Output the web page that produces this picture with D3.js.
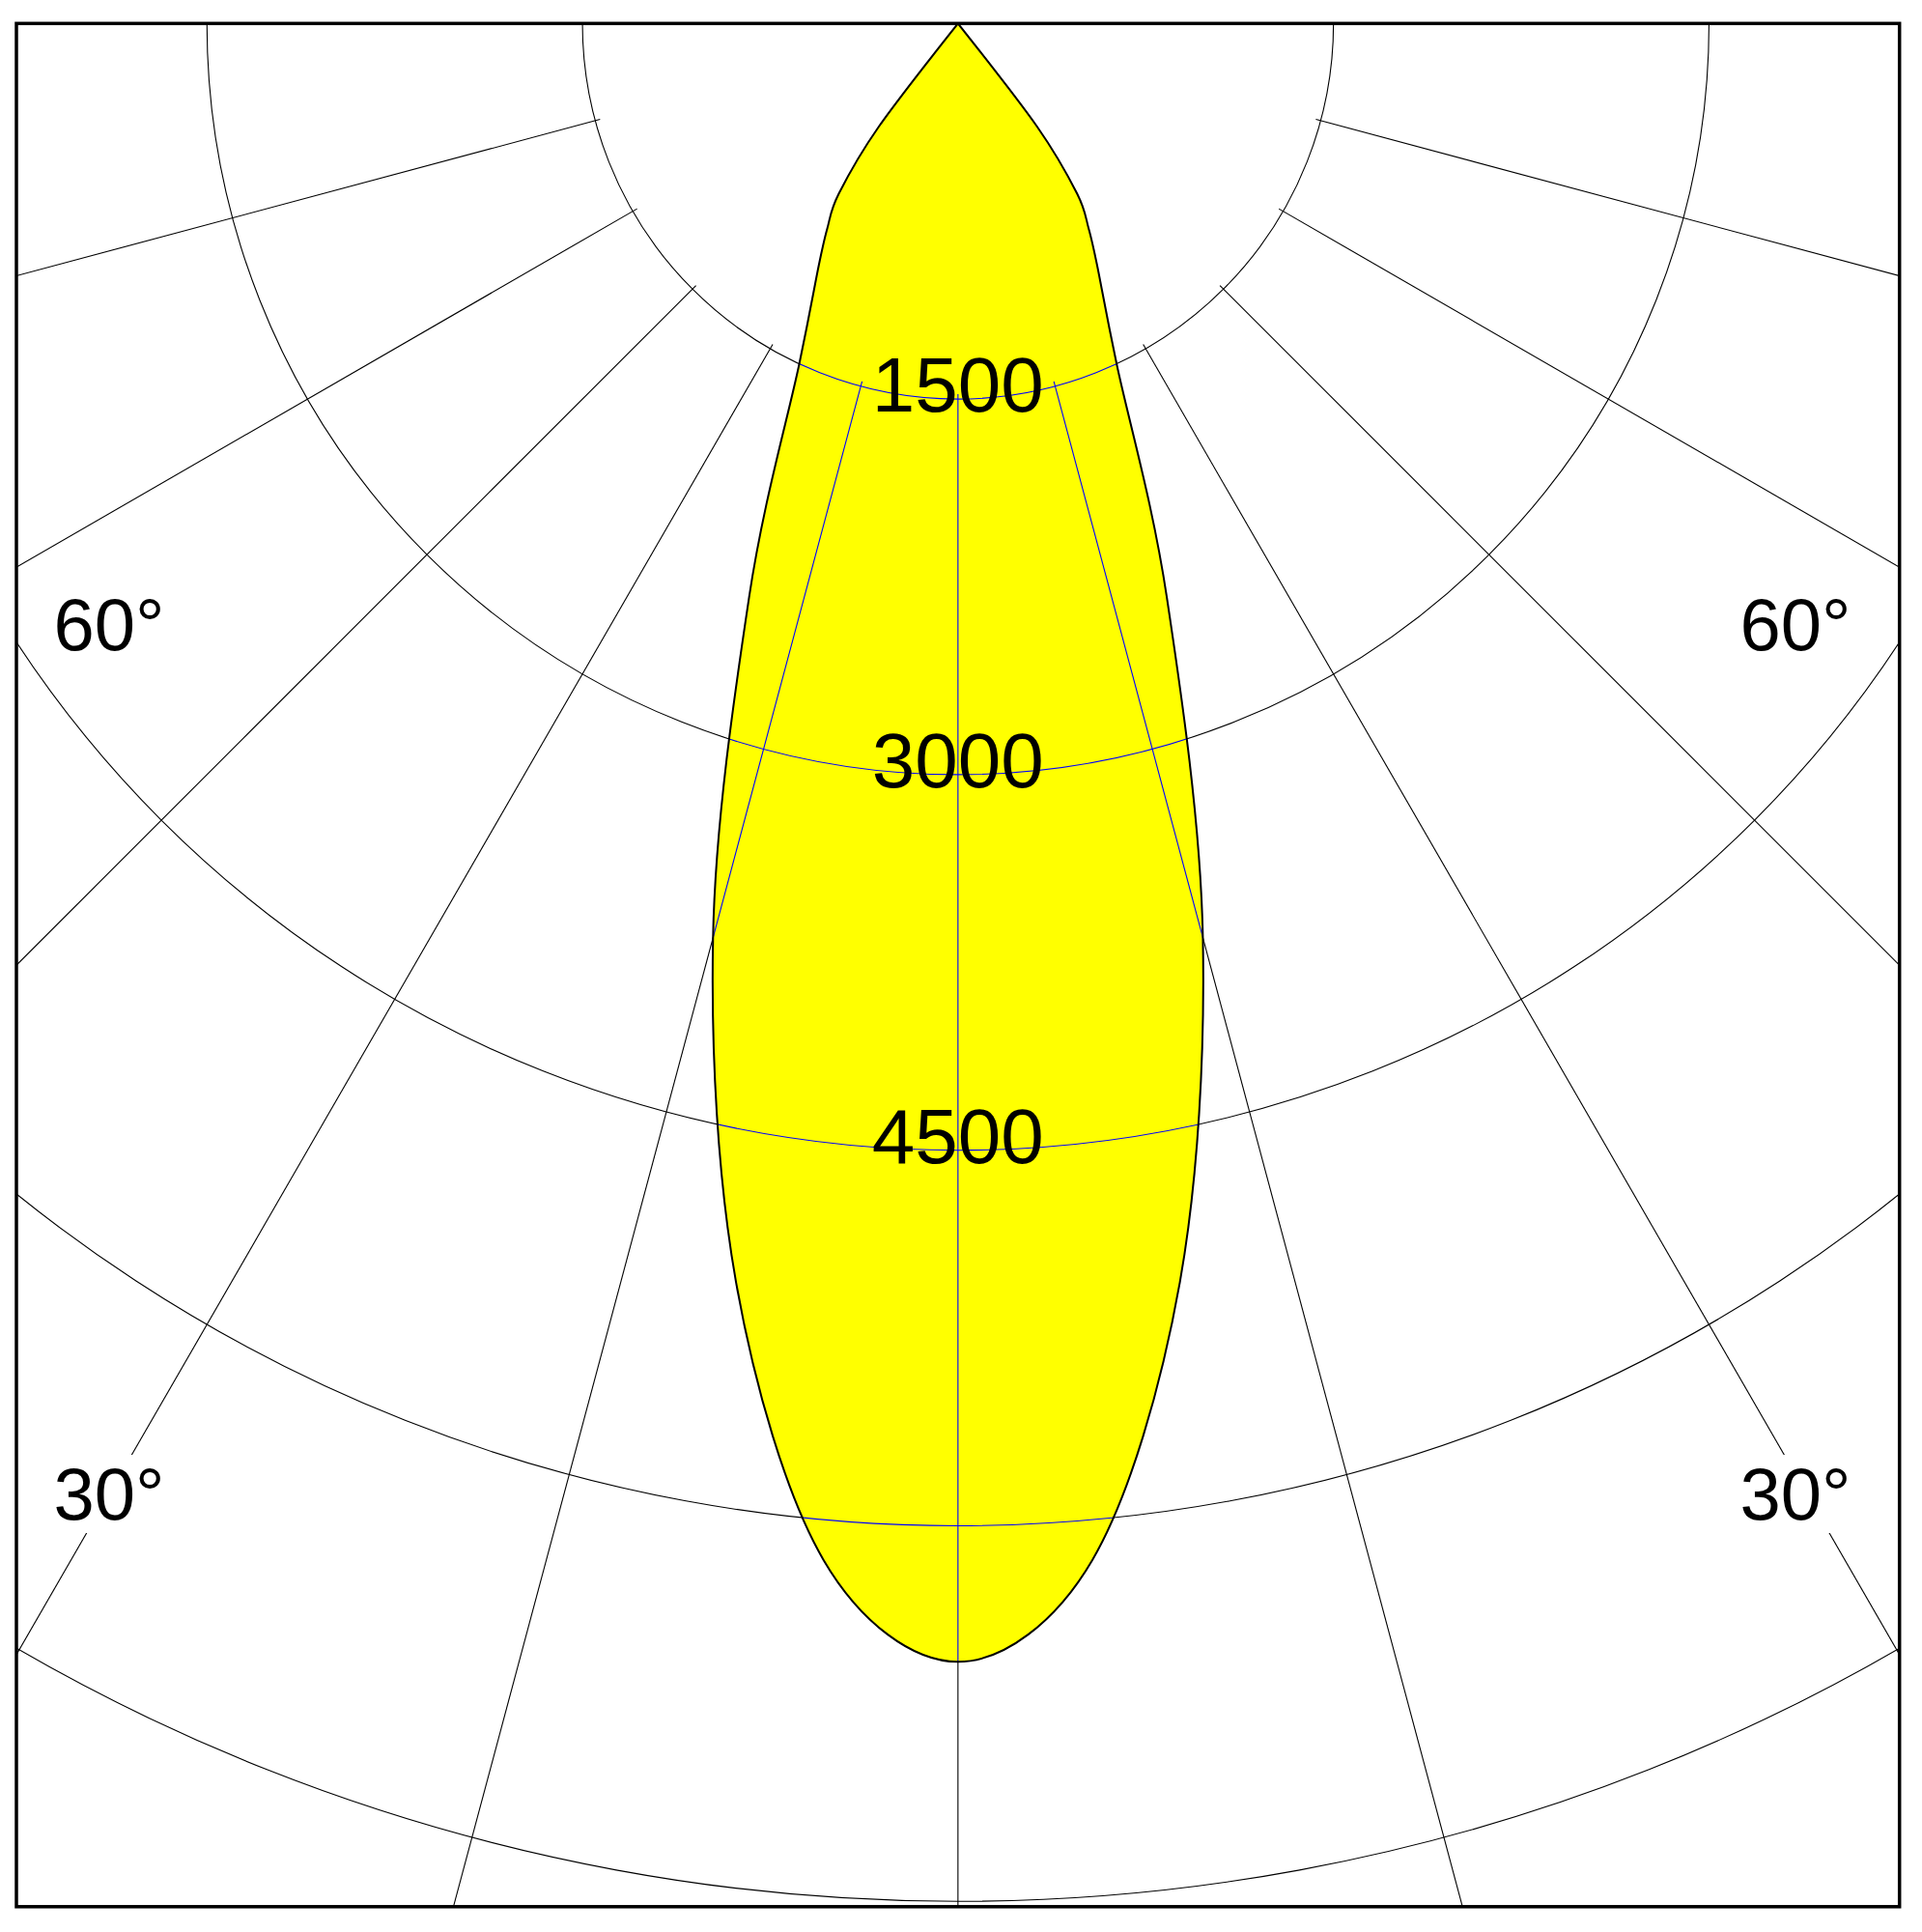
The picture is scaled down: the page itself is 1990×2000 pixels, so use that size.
<!DOCTYPE html>
<html>
<head>
<meta charset="utf-8">
<style>
  html, body { margin: 0; padding: 0; background: #fff; }
  svg { display: block; }
  text { font-family: "Liberation Sans", Arial, sans-serif; fill: #000; }
</style>
</head>
<body>
<div id="graphic"></div>
<script src="https://d3js.org/d3.v7.min.js"></script>
<script>
// luminous intensity (cd), one half of the symmetric beam (degrees from nadir)
var angles = [0, 5, 10, 15, 20, 25, 30, 32.5, 35, 37.5, 40];
var candela = [6543, 6160, 5105, 3780, 2440, 1500, 1110, 972, 830, 520, 0];

var rings = [1500, 3000, 4500, 6000, 7500];
var ringLabels = [1500, 3000, 4500];
var spokes = [-75, -60, -45, -30, -15, 0, 15, 30, 45, 60, 75];
var degreeLabels = ["60°", "30°"];

var W = 1990, H = 2000;
var frame = { left: 17, top: 24.3, right: 1966.7, bottom: 1973.8 };
var cx = (frame.left + frame.right) / 2,
    cy = frame.top;

var svg = d3.select("#graphic").append("svg")
    .attr("width", W)
    .attr("height", H);

svg.append("rect")
    .attr("width", W)
    .attr("height", H)
    .attr("fill", "#fff");

svg.append("clipPath")
    .attr("id", "clip")
    .append("rect")
    .attr("x", frame.left)
    .attr("y", frame.top)
    .attr("width", frame.right - frame.left)
    .attr("height", frame.bottom - frame.top);

// radius scale: candela -> px
var r = d3.scaleLinear().domain([0, 7500]).range([0, 1944]);

var rad = function (deg) { return deg * Math.PI / 180; };

// full beam: mirror the half curve
var beam = [];
for (var i = angles.length - 1; i > 0; i--) beam.push({ a: -angles[i], v: candela[i] });
for (var j = 0; j < angles.length; j++) beam.push({ a: angles[j], v: candela[j] });

var line = d3.lineRadial()
    .angle(function (d) { return Math.PI - rad(d.a); })
    .radius(function (d) { return r(d.v); })
    .curve(d3.curveCardinal.tension(0));

var clipped = svg.append("g")
    .attr("clip-path", "url(#clip)");

// white backdrop inside the clipped group so the blend has something to work on
clipped.append("rect")
    .attr("x", frame.left)
    .attr("y", frame.top)
    .attr("width", frame.right - frame.left)
    .attr("height", frame.bottom - frame.top)
    .attr("fill", "#fff");

var plot = clipped.append("g")
    .attr("transform", "translate(" + cx + "," + cy + ")");

// yellow beam fill
plot.append("path")
    .datum(beam)
    .attr("d", line)
    .attr("fill", "#ffff00")
    .attr("stroke", "none");

// grid drawn with difference: dark on white, blue on the yellow
var grid = plot.append("g")
    .style("mix-blend-mode", "difference")
    .attr("fill", "none")
    .attr("stroke", "#fff")
    .attr("stroke-width", 1.1);

grid.selectAll("circle")
    .data(rings)
    .enter()
    .append("circle")
    .attr("r", function (d) { return r(d); });

grid.selectAll("line")
    .data(spokes)
    .enter()
    .append("line")
    .attr("x1", function (d) { return r(1480) * Math.sin(rad(d)); })
    .attr("y1", function (d) { return r(1480) * Math.cos(rad(d)); })
    .attr("x2", function (d) { return r(12000) * Math.sin(rad(d)); })
    .attr("y2", function (d) { return r(12000) * Math.cos(rad(d)); });

// beam outline
plot.append("path")
    .datum(beam)
    .attr("d", line)
    .attr("fill", "none")
    .attr("stroke", "#000")
    .attr("stroke-width", 2);

// intensity labels on the rings
plot.selectAll(".ringlabel")
    .data(ringLabels)
    .enter()
    .append("text")
    .attr("class", "ringlabel")
    .attr("x", 0)
    .attr("y", function (d) { return r(d) + 13; })
    .attr("text-anchor", "middle")
    .style("font-size", "80px")
    .text(function (d) { return d; });

// angle labels, both sides, with white backing
var degPos = [{ t: degreeLabels[0], y: 673 }, { t: degreeLabels[1], y: 1573 }];
var degData = [];
degPos.forEach(function (p) {
    degData.push({ t: p.t, x: cx - 879, y: p.y });
    degData.push({ t: p.t, x: cx + 867, y: p.y });
});

var dl = svg.selectAll(".deg")
    .data(degData)
    .enter()
    .append("g")
    .attr("class", "deg");

dl.append("text")
    .attr("x", function (d) { return d.x; })
    .attr("y", function (d) { return d.y; })
    .attr("text-anchor", "middle")
    .style("font-size", "76px")
    .text(function (d) { return d.t; });

dl.each(function () {
    var g = d3.select(this);
    var b = g.select("text").node().getBBox();
    g.insert("rect", "text")
        .attr("x", b.x - 2)
        .attr("y", b.y + 2)
        .attr("width", b.width + 4)
        .attr("height", b.height - 4)
        .attr("fill", "#fff");
});

// frame
svg.append("rect")
    .attr("x", frame.left)
    .attr("y", frame.top)
    .attr("width", frame.right - frame.left)
    .attr("height", frame.bottom - frame.top)
    .attr("fill", "none")
    .attr("stroke", "#000")
    .attr("stroke-width", 3.5);
</script>
</body>
</html>
